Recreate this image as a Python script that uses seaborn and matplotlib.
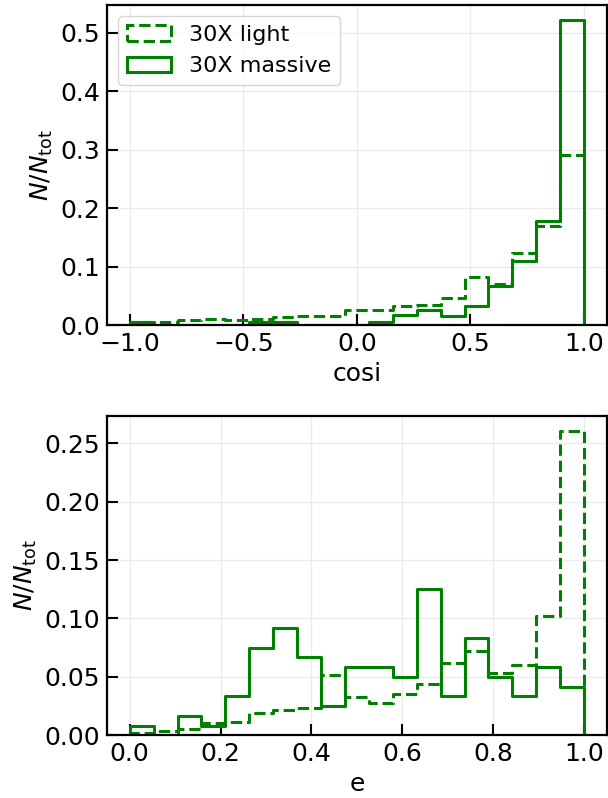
import numpy as np
import pandas as pd
import matplotlib
matplotlib.use("Agg")
import matplotlib.pyplot as plt
import seaborn as sns
from matplotlib.patches import Patch

# ---- data (normalized counts) ----
cosi_edges = np.linspace(-1.0, 1.0, 20)
cosi_light = [0.006, 0.006, 0.008, 0.010, 0.009, 0.010, 0.013, 0.016, 0.016, 0.025,
              0.026, 0.033, 0.035, 0.047, 0.082, 0.070, 0.123, 0.170, 0.290]
cosi_massive = [0.006, 0.0, 0.0, 0.0, 0.0, 0.006, 0.006, 0.0, 0.0, 0.0,
                0.006, 0.017, 0.025, 0.016, 0.033, 0.067, 0.109, 0.177, 0.521]

e_edges = np.linspace(0.0, 1.0, 20)
e_light = [0.0014, 0.0037, 0.005, 0.010, 0.011, 0.0186, 0.0214, 0.0229, 0.0511, 0.0323,
           0.0274, 0.0351, 0.044, 0.0614, 0.0723, 0.0529, 0.060, 0.1017, 0.261]
e_massive = [0.008, 0.0, 0.0163, 0.008, 0.0334, 0.075, 0.092, 0.0666, 0.0249, 0.0583,
             0.0583, 0.050, 0.1254, 0.0334, 0.0834, 0.050, 0.0334, 0.0583, 0.0414]

labels = ["30X light", "30X massive"]
styles = ["--", "-"]
color = "green"

sns.set_style("white")
plt.rcParams["font.family"] = ["DejaVu Sans"]
plt.rcParams.update({"text.color": "black", "axes.labelcolor": "black",
                     "xtick.color": "black", "ytick.color": "black",
                     "mathtext.fontset": "dejavusans"})

fig = plt.figure(figsize=(6.08, 7.98), dpi=100)
ax1 = fig.add_axes([0.176, 0.5927, 0.822, 0.401])
ax2 = fig.add_axes([0.176, 0.0789, 0.822, 0.400])


def draw(ax, edges, series):
    centers = 0.5 * (edges[:-1] + edges[1:])
    for vals, ls, lab in zip(series, styles, labels):
        n_before = len(ax.lines)
        sns.histplot(x=list(centers), weights=list(vals), bins=[float(b) for b in edges],
                     element="step", fill=False, stat="count", color=color,
                     linestyle=ls, linewidth=2.2, ax=ax)
        line = ax.lines[n_before]
        x, y = line.get_data()
        x = np.asarray(x, float); y = np.asarray(y, float)
        line.set_data(np.r_[x[0], x, x[-1]], np.r_[0.0, y, 0.0])


draw(ax1, cosi_edges, [cosi_light, cosi_massive])
draw(ax2, e_edges, [e_light, e_massive])

ax1.set_xlim(-1.1, 1.1)
ax1.set_ylim(0, 0.547)
ax1.set_xticks([-1.0, -0.5, 0.0, 0.5, 1.0])
ax1.set_yticks([0.0, 0.1, 0.2, 0.3, 0.4, 0.5])
ax2.set_xlim(-0.05, 1.05)
ax2.set_ylim(0, 0.2737)
ax2.set_xticks([0.0, 0.2, 0.4, 0.6, 0.8, 1.0])
ax2.set_yticks([0.0, 0.05, 0.10, 0.15, 0.20, 0.25])
ax2.yaxis.set_major_formatter(matplotlib.ticker.FormatStrFormatter("%.2f"))
ax1.yaxis.set_major_formatter(matplotlib.ticker.FormatStrFormatter("%.1f"))

for ax, xl in [(ax1, "cosi"), (ax2, "e")]:
    ax.set_xlabel(xl, fontsize=18, labelpad=4)
    ax.set_ylabel(r"$N/N_{\mathrm{tot}}$", fontsize=18, labelpad=4)
    ax.grid(True, color="#ebebeb", linewidth=1.0)
    ax.set_axisbelow(True)
    ax.tick_params(direction="in", length=8, width=1.5, labelsize=18,
                   bottom=True, left=True, top=False, right=False, pad=5)
    for sp in ax.spines.values():
        sp.set_linewidth(1.6)
        sp.set_color("black")

handles = [Patch(facecolor="none", edgecolor=color, linestyle=ls, linewidth=2.2)
           for ls in styles]
ax1.legend(handles, labels, loc="upper left", fontsize=16, frameon=True,
           handlelength=2.0, borderaxespad=0.5)

fig.savefig("out.png", dpi=100)
